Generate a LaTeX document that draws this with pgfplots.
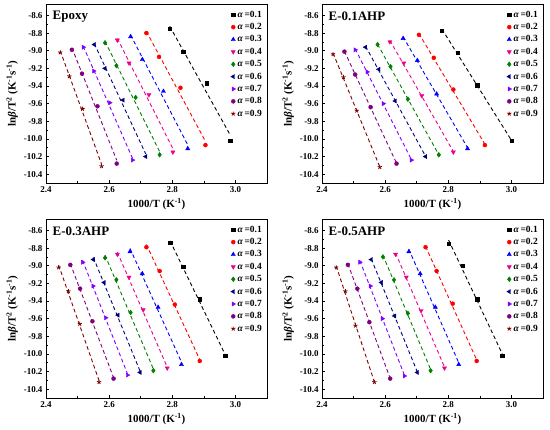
\documentclass[border=0pt]{standalone}
\usepackage{pgfplots}
\usepackage{pgfplotstable}
\pgfplotsset{compat=1.18}
\usepackage{fontspec}
\setmainfont{Liberation Serif}
\definecolor{cgreen}{RGB}{0,128,0}
\definecolor{cnavy}{RGB}{0,0,128}
\definecolor{cviolet}{RGB}{128,0,255}
\definecolor{cpurple}{RGB}{128,0,128}
\definecolor{cwine}{RGB}{128,0,0}

\pgfplotstableread{
x1 y1 x2 y2 x3 y3 x4 y4 x5 y5 x6 y6 x7 y7 x8 y8 x9 y9
2.792 -8.75 2.718 -8.80 2.668 -8.84 2.626 -8.88 2.587 -8.91 2.553 -8.93 2.518 -8.96 2.482 -8.99 2.445 -9.02
2.834 -9.01 2.758 -9.07 2.705 -9.10 2.663 -9.14 2.623 -9.17 2.587 -9.20 2.551 -9.23 2.514 -9.26 2.474 -9.29
2.909 -9.37 2.826 -9.42 2.772 -9.46 2.726 -9.50 2.684 -9.53 2.644 -9.56 2.602 -9.59 2.563 -9.63 2.516 -9.66
2.984 -10.02 2.905 -10.07 2.849 -10.11 2.802 -10.15 2.760 -10.18 2.716 -10.20 2.674 -10.24 2.624 -10.28 2.576 -10.31
}\tepoxy
\pgfplotstableread{
x1 y1 x2 y2 x3 y3 x4 y4 x5 y5 x6 y6 x7 y7 x8 y8 x9 y9
2.780 -8.77 2.707 -8.82 2.657 -8.86 2.615 -8.90 2.576 -8.93 2.538 -8.96 2.505 -8.99 2.471 -9.01 2.435 -9.04
2.829 -9.02 2.754 -9.08 2.702 -9.11 2.659 -9.14 2.617 -9.18 2.580 -9.21 2.543 -9.24 2.505 -9.27 2.468 -9.30
2.892 -9.39 2.816 -9.44 2.763 -9.49 2.716 -9.51 2.672 -9.55 2.632 -9.57 2.594 -9.60 2.554 -9.64 2.510 -9.68
3.000 -10.02 2.916 -10.07 2.861 -10.11 2.816 -10.15 2.770 -10.18 2.728 -10.20 2.683 -10.24 2.636 -10.28 2.583 -10.32
}\tone
\pgfplotstableread{
x1 y1 x2 y2 x3 y3 x4 y4 x5 y5 x6 y6 x7 y7 x8 y8 x9 y9
2.793 -8.74 2.718 -8.79 2.666 -8.84 2.626 -8.87 2.587 -8.91 2.550 -8.93 2.516 -8.96 2.477 -8.99 2.440 -9.02
2.835 -9.01 2.760 -9.06 2.705 -9.09 2.663 -9.13 2.623 -9.16 2.584 -9.19 2.549 -9.23 2.508 -9.26 2.471 -9.29
2.887 -9.38 2.808 -9.44 2.755 -9.47 2.708 -9.50 2.668 -9.53 2.628 -9.56 2.589 -9.59 2.547 -9.63 2.507 -9.66
2.967 -10.02 2.887 -10.08 2.829 -10.12 2.784 -10.16 2.740 -10.19 2.698 -10.21 2.658 -10.24 2.614 -10.28 2.568 -10.32
}\tthree
\pgfplotstableread{
x1 y1 x2 y2 x3 y3 x4 y4 x5 y5 x6 y6 x7 y7 x8 y8 x9 y9
2.801 -8.75 2.728 -8.79 2.675 -8.84 2.633 -8.87 2.593 -8.90 2.556 -8.93 2.520 -8.96 2.482 -8.99 2.445 -9.02
2.845 -9.00 2.763 -9.06 2.711 -9.09 2.667 -9.13 2.628 -9.16 2.588 -9.19 2.553 -9.23 2.512 -9.26 2.474 -9.29
2.892 -9.38 2.814 -9.43 2.759 -9.47 2.714 -9.51 2.672 -9.54 2.630 -9.57 2.591 -9.60 2.550 -9.64 2.506 -9.68
2.971 -10.02 2.890 -10.08 2.833 -10.12 2.788 -10.16 2.744 -10.19 2.702 -10.21 2.661 -10.25 2.616 -10.28 2.566 -10.32
}\tfive

\pgfplotsset{
  s1/.style={black, mark=square*, mark size=1.7bp},
  s2/.style={red, mark=*, mark size=2bp},
  s3/.style={blue, mark=triangle*, mark size=2.4bp},
  s4/.style={magenta, mark=triangle*, mark size=2.4bp, mark options={rotate=180}},
  s5/.style={cgreen, mark=diamond*, mark size=2.4bp},
  s6/.style={cnavy, mark=triangle*, mark size=2.4bp, mark options={rotate=90}},
  s7/.style={cviolet, mark=triangle*, mark size=2.4bp, mark options={rotate=-90}},
  s8/.style={cpurple, mark=*, mark size=2bp},
  s9/.style={cwine, mark=star, mark size=2.2bp, mark options={line width=0.8pt}},
  common/.style={
    scale only axis, width=221bp, height=179bp,
    xmin=2.4, xmax=3.1, ymin=-10.5, ymax=-8.47,
    xtick={2.4,2.6,2.8,3.0},
    ytick={-10.4,-10.2,-10.0,-9.8,-9.6,-9.4,-9.2,-9.0,-8.8,-8.6},
    minor x tick num=1, minor y tick num=1,
    tick align=inside, xtick pos=left, ytick pos=left,
    tick style={black, line width=0.6pt},
    major tick length=3bp, minor tick length=1.8bp,
    axis line style={line width=0.8pt},
    /pgf/number format/assume math mode=true,
    xticklabel style={/pgf/number format/.cd, fixed, fixed zerofill, precision=1},
    yticklabel style={/pgf/number format/.cd, fixed, fixed zerofill, precision=1},
    tick label style={font=\bfseries\fontsize{9}{10}\selectfont},
    label style={font=\bfseries\fontsize{11}{13}\selectfont},
    xlabel={1000/T (K\textsuperscript{-1})},
    ylabel={ln\textit{β}/T\textsuperscript{2} (K\textsuperscript{-1}s\textsuperscript{-1})},
    xlabel style={yshift=1bp},
    ylabel style={yshift=-1bp},
    legend style={draw=none, fill=none, at={(1.0,0.985)}, anchor=north east,
      font=\bfseries\fontsize{9.5}{10}\selectfont, row sep=0.6pt},
    legend cell align=left,
  }
}
\newcommand{\ser}[2]{%
  \addplot[s#2, no marks, line width=0.9pt, dash pattern=on 3.8bp off 2.8bp, forget plot]
    table[x=x#2, y={create col/linear regression={x=x#2,y=y#2}}]{#1};
  \addplot[s#2, only marks] table[x=x#2, y=y#2]{#1};
}
\newcommand{\al}{\textit{α}\,}
\newcommand{\panel}[3]{%
\begin{axis}[common, at={#1}, anchor=south west]
  \ser{#2}{1}\ser{#2}{2}\ser{#2}{3}\ser{#2}{4}\ser{#2}{5}
  \ser{#2}{6}\ser{#2}{7}\ser{#2}{8}\ser{#2}{9}
  \legend{\al=0.1,\al=0.2,\al=0.3,\al=0.4,\al=0.5,\al=0.6,\al=0.7,\al=0.8,\al=0.9}
  \node[anchor=north west, font=\bfseries\fontsize{13}{15}\selectfont, inner sep=1pt]
    at (rel axis cs:0.025,0.965) {#3};
\end{axis}}

\begin{document}
\begin{tikzpicture}
\path[use as bounding box] (0,0) rectangle (550bp,430bp);
\panel{(46bp,247bp)}{\tepoxy}{Epoxy}
\panel{(322bp,247bp)}{\tone}{E-0.1AHP}
\panel{(46bp,32bp)}{\tthree}{E-0.3AHP}
\panel{(322bp,32bp)}{\tfive}{E-0.5AHP}
\end{tikzpicture}
\end{document}
